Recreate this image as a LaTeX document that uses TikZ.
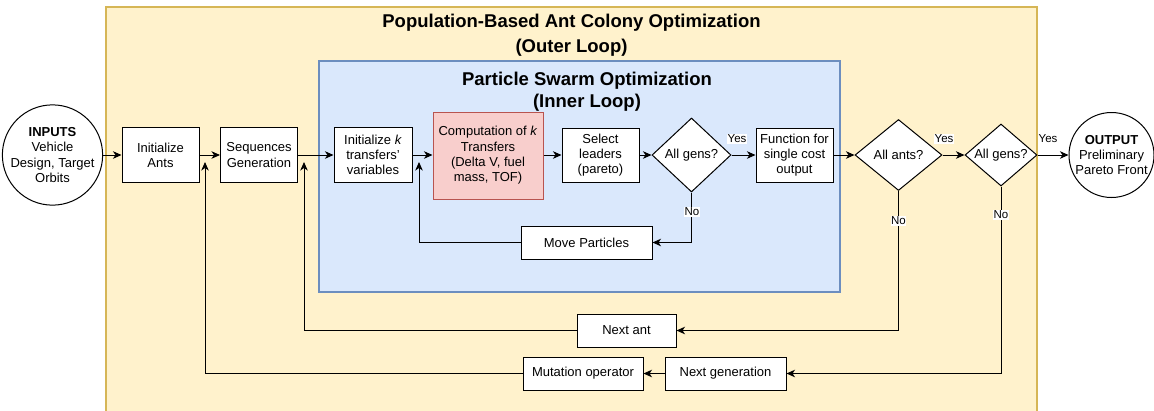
\documentclass[tikz,border=0pt]{standalone}
\usepackage{fontspec}
\setmainfont{Liberation Sans}
\usetikzlibrary{shapes.geometric,arrows.meta}
\definecolor{ylfill}{HTML}{FFF2CC}
\definecolor{yldraw}{HTML}{D6B656}
\definecolor{blfill}{HTML}{DAE8FC}
\definecolor{bldraw}{HTML}{6C8EBF}
\definecolor{rdfill}{HTML}{F8CECC}
\definecolor{rddraw}{HTML}{B85450}
\begin{document}
\begin{tikzpicture}[x=1pt,y=-1pt,
 font=\fontsize{13}{15.3}\selectfont,
 box/.style={draw=black, fill=white, line width=1pt, align=center, inner sep=0pt},
 dia/.style={diamond, draw=black, fill=white, line width=1pt, inner sep=0pt, align=center},
 circ/.style={circle, draw=black, fill=white, line width=1pt, inner sep=0pt, align=center},
 flow/.style={line width=1pt, -{Stealth[length=8.5pt,width=7.5pt,inset=2.5pt]}},
 lbl/.style={fill=white, inner sep=0.5pt, font=\fontsize{11.5}{13}\selectfont},
 ttl/.style={align=center}
]
\useasboundingbox (0,0) rectangle (1154,410);
\clip (0,0) rectangle (1154,410);
% containers
\draw[fill=ylfill, draw=yldraw, line width=2pt] (106,7) rectangle (1037,425);
\node[ttl, font=\fontsize{18.5}{25}\selectfont\bfseries] (ttlouter) at (571.5,35) {Population-Based Ant Colony Optimization\\(Outer Loop)};
\draw[fill=blfill, draw=bldraw, line width=2pt] (319,61) rectangle (840,292);
\node[ttl, font=\fontsize{18.5}{22.5}\selectfont\bfseries] (ttlinner) at (587,91.5) {Particle Swarm Optimization\\(Inner Loop)};
% nodes
\node[circ, minimum size=88pt] (inp) at (52.5,155) {\textbf{INPUTS}\\Vehicle\\Design, Target\\Orbits};
\node[box, minimum width=77pt, minimum height=55pt] (ia) at (160.5,155) {Initialize\\Ants};
\node[box, minimum width=77pt, minimum height=55pt] (sg) at (259,155) {Sequences\\Generation};
\node[box, minimum width=78pt, minimum height=55pt] (ik) at (373,155) {Initialize \textit{k}\\transfers'\\variables};
\node[box, fill=rdfill, draw=rddraw, minimum width=110pt, minimum height=87pt] (cp) at (488,155.5) {Computation of \textit{k}\\Transfers\\(Delta V, fuel\\mass, TOF)};
\node[box, minimum width=77pt, minimum height=54pt] (sl) at (600.5,155) {Select\\leaders\\(pareto)};
\node[dia, aspect=1.07, minimum width=79pt, minimum height=74pt] (ga) at (691.5,155) {All gens?};
\node[box, minimum width=77pt, minimum height=54pt] (fn) at (794.5,155) {Function for\\single cost\\output};
\node[box, minimum width=131pt, minimum height=33pt] (mp) at (586.5,242.5) {Move Particles};
\node[dia, aspect=1.22, minimum width=87pt, minimum height=71pt] (aa) at (898.5,155) {All ants?};
\node[dia, aspect=1.16, minimum width=72pt, minimum height=62pt] (gb) at (1001,155) {All gens?};
\node[circ, minimum size=85pt] (out) at (1111.5,155) {\textbf{OUTPUT}\\Preliminary\\Pareto Front};
\node[box, minimum width=99pt, minimum height=33pt] (na) at (626.5,330.5) {Next ant};
\node[box, minimum width=120pt, minimum height=33pt] (mo) at (583,373.5) {Mutation operator};
\node[box, minimum width=121pt, minimum height=33pt] (ng) at (725.5,373.5) {Next generation};
% main flow
\draw[flow] (inp) -- (ia);
\draw[flow] (ia) -- (sg);
\draw[flow] (sg) -- (ik);
\draw[flow] (ik) -- (ik -| cp.west);
\draw[flow] (cp.east |- sl) -- (sl);
\draw[flow] (sl) -- (ga);
\draw[flow] (ga) -- (fn);
\draw[flow] (fn) -- (aa);
\draw[flow] (aa) -- (gb);
\draw[flow] (gb) -- (out);
\node[lbl] (yesa) at (737,139) {Yes};
\node[lbl] (yesb) at (944,139) {Yes};
\node[lbl] (yesc) at (1048,139) {Yes};
% loops
\coordinate (ta) at (419,162);
\coordinate (tb) at (304,162);
\coordinate (tc) at (205,162);
\draw[flow] (ga.south) |- (mp.east);
\draw[flow] (mp.west) -| (ta);
\draw[flow] (aa.south) |- (na.east);
\draw[flow] (na.west) -| (tb);
\draw[flow] (gb.south) |- (ng.east);
\draw[flow] (ng) -- (mo);
\draw[flow] (mo.west) -| (tc);
\node[lbl] (noa) at (692,212) {No};
\node[lbl] (nob) at (898.5,221) {No};
\node[lbl] (noc) at (1001,215) {No};
\end{tikzpicture}
\end{document}
